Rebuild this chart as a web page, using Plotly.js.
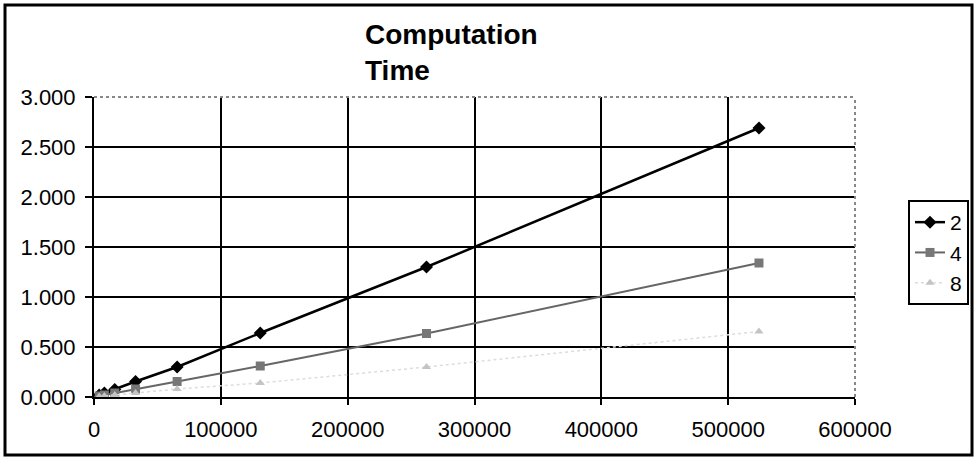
<!DOCTYPE html>
<html>
<head>
<meta charset="utf-8">
<script src="https://cdn.plot.ly/plotly-3.0.1.min.js"></script>
<style>html,body{margin:0;padding:0;background:#fff;}#chart{width:975px;height:457px;}</style>
</head>
<body>
<div id="chart"></div>
<script>
// Data
const xValues = [4096, 8192, 16384, 32768, 65536, 131072, 262144, 524288];
const series2 = [0.02, 0.04, 0.075, 0.155, 0.30, 0.64, 1.30, 2.69];
const series4 = [0.01, 0.02, 0.04, 0.08, 0.155, 0.31, 0.635, 1.34];
const series8 = [0.005, 0.01, 0.02, 0.04, 0.08, 0.14, 0.30, 0.655];
const seriesNames = ['2', '4', '8'];
const xTicks = [0, 100000, 200000, 300000, 400000, 500000, 600000];
const yTicks = [0, 0.5, 1, 1.5, 2, 2.5, 3];

const FONT = 'Liberation Sans, Arial, Helvetica, sans-serif';

const traces = [
  {x: xValues, y: series2, name: seriesNames[0], type: 'scatter', mode: 'lines+markers',
   line: {color: '#000', width: 2.5}, marker: {symbol: 'diamond', size: 10, color: '#000'}},
  {x: xValues, y: series4, name: seriesNames[1], type: 'scatter', mode: 'lines+markers',
   line: {color: '#666', width: 2}, marker: {symbol: 'square', size: 9, color: '#777'}},
  {x: xValues, y: series8, name: seriesNames[2], type: 'scatter', mode: 'lines+markers',
   line: {color: '#ddd', width: 1.5, dash: 'dot'}, marker: {symbol: 'triangle-up', size: 8, color: '#c4c4c4'}}
];

const layout = {
  width: 975, height: 457,
  margin: {l: 94, r: 120, t: 97, b: 60, autoexpand: false},
  paper_bgcolor: '#fff', plot_bgcolor: '#fff',
  font: {family: FONT, color: '#000', size: 22},
  title: {text: '<b>Computation<br>Time</b>', x: 365/975, xref: 'container', xanchor: 'left',
          y: 1 - 44/457, yref: 'container', yanchor: 'top',
          font: {family: FONT, size: 28, color: '#000'}},
  xaxis: {range: [0, 600000], tickvals: xTicks, ticktext: xTicks.map(String),
          showgrid: true, gridcolor: '#000', gridwidth: 2, zeroline: false,
          showline: true, linecolor: '#000', linewidth: 2,
          ticks: 'outside', ticklen: 6, tickcolor: '#000', tickwidth: 2,
          ticklabelstandoff: 6, tickfont: {size: 22, family: FONT}},
  yaxis: {range: [0, 3], tickvals: yTicks, tickformat: '.3f',
          showgrid: true, gridcolor: '#000', gridwidth: 2, zeroline: false,
          showline: true, linecolor: '#000', linewidth: 2,
          ticks: 'outside', ticklen: 7, tickcolor: '#000', tickwidth: 2,
          ticklabelstandoff: 5, tickfont: {size: 22, family: FONT}},
  legend: {x: (908-94)/761, y: (397-200)/300, xanchor: 'left', yanchor: 'top',
           bordercolor: '#000', borderwidth: 2, bgcolor: '#fff',
           font: {size: 21, family: FONT}, tracegroupgap: 0},
  shapes: [
    {type: 'line', xref: 'paper', yref: 'paper', x0: 0, x1: 1, y0: 1, y1: 1,
     line: {color: '#888', width: 2, dash: 'dot'}},
    {type: 'line', xref: 'paper', yref: 'paper', x0: 1, x1: 1, y0: 0, y1: 1,
     line: {color: '#888', width: 2, dash: 'dot'}},
    {type: 'rect', xref: 'paper', yref: 'paper',
     x0: (5-94)/761, x1: (972-94)/761, y0: (397-455)/300, y1: (397-5)/300,
     line: {color: '#000', width: 3}, fillcolor: 'rgba(0,0,0,0)', layer: 'above'}
  ],
  showlegend: true
};

Plotly.newPlot('chart', traces, layout, {staticPlot: true, displayModeBar: false});
</script>
</body>
</html>
